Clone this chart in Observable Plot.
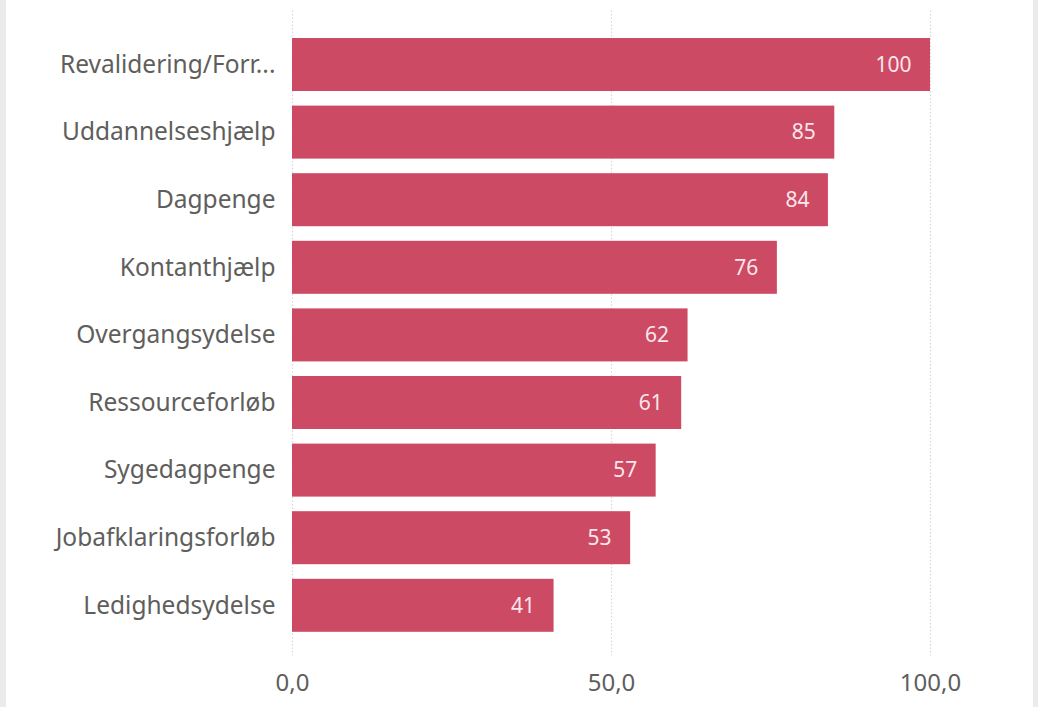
<!DOCTYPE html>
<html>
<head>
<meta charset="utf-8">
<script src="https://cdn.jsdelivr.net/npm/d3@7"></script>
<script src="https://cdn.jsdelivr.net/npm/@observablehq/plot@0.6"></script>
<style>
  html, body { margin: 0; padding: 0; background: #fff; }
  #wrap { width: 1027px; height: 707px; border-left: 6px solid #ebebeb; border-right: 5px solid #ebebeb; background: #fff; overflow: hidden; }
  svg { display: block; }
</style>
</head>
<body>
<div id="wrap"></div>
<script>
const categories = ["Revalidering/Forr...", "Uddannelseshjælp", "Dagpenge", "Kontanthjælp", "Overgangsydelse", "Ressourceforløb", "Sygedagpenge", "Jobafklaringsforløb", "Ledighedsydelse"];
const values = [100, 85, 84, 76, 62, 61, 57, 53, 41];
const xTicks = [0, 50, 100];
const xTickLabels = ["0,0", "50,0", "100,0"];

const data = categories.map((c, i) => ({category: c, value: values[i]}));
const font = "'Noto Sans', 'Open Sans', sans-serif";
const fmt = d => xTickLabels[xTicks.indexOf(d)];

const chart = Plot.plot({
  width: 1027,
  height: 707,
  marginLeft: 286,
  marginRight: 103,
  marginTop: 23.4,
  marginBottom: 60.6,
  style: {fontFamily: font, fontSize: "20px", color: "#605e5c", background: "#fff"},
  x: {domain: [0, 100], ticks: xTicks, tickFormat: fmt, tickSize: 0, label: null},
  y: {domain: categories, padding: 0.216, round: false, tickSize: 0, label: null},
  marks: [
    Plot.ruleX(xTicks, {stroke: "#d8d8d8", strokeDasharray: "1.5,2", strokeWidth: 1.2, insetTop: -13, insetBottom: -9}),
    Plot.barX(data, {x: "value", y: "category", fill: "#cc4a63"}),
    Plot.text(data, {x: "value", y: "category", text: d => String(d.value), textAnchor: "end", dx: -19, fill: "#fbe6ec", fontSize: 21}),
    Plot.axisY({tickSize: 0, tickPadding: 17, fontSize: 24.5, fill: "#605e5c"}),
    Plot.axisX({ticks: xTicks, tickFormat: fmt, tickSize: 0, tickPadding: 27, fontSize: 24, fill: "#605e5c"})
  ]
});
document.getElementById("wrap").appendChild(chart);
</script>
</body>
</html>
